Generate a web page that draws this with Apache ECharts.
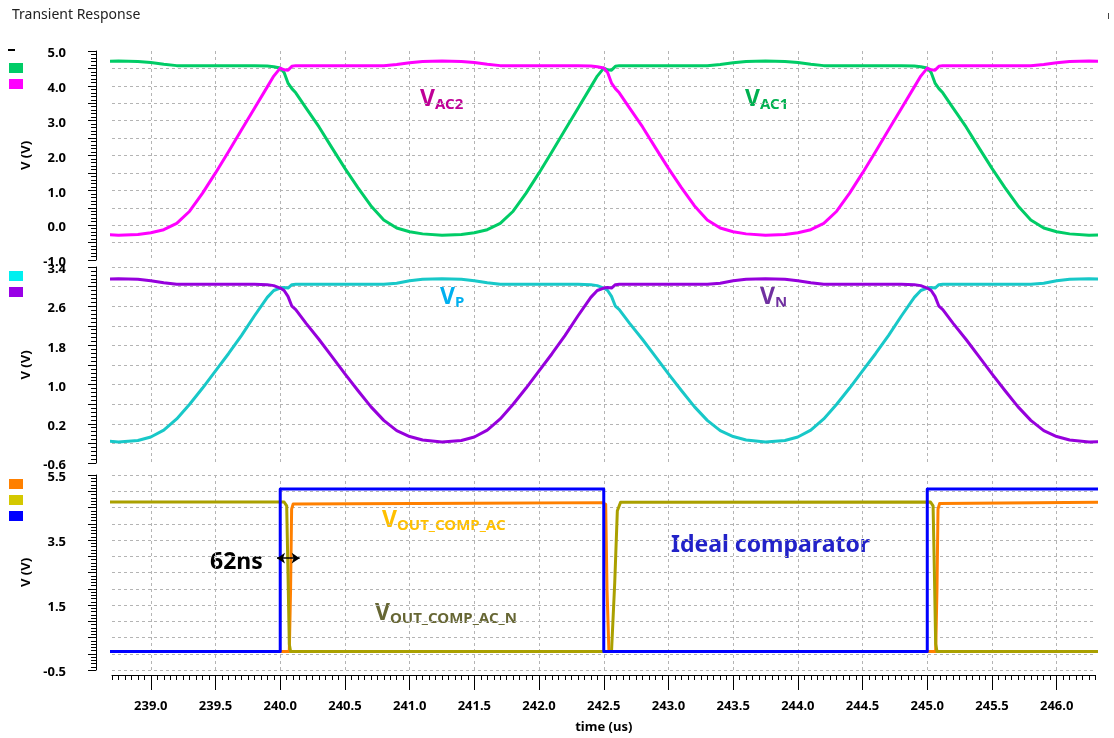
<!DOCTYPE html>
<html>
<head>
<meta charset="utf-8">
<title>Transient Response</title>
<script src="https://cdn.jsdelivr.net/npm/echarts@6/dist/echarts.min.js"></script>
<style>
  html, body { margin: 0; padding: 0; background: #ffffff; }
  #chart { width: 1114px; height: 738px; }
</style>
</head>
<body>
<div id="chart"></div>
<script>
// ---- time samples (us) shared by the analog node voltages ----
const timeUs = [
  238.66, 238.75, 238.90, 239.00, 239.10, 239.20, 239.30, 239.40, 239.50, 239.60, 239.70, 239.80, 239.90, 239.95,
  240.00, 240.03, 240.06, 240.09, 240.12, 240.20, 240.30, 240.40, 240.50, 240.60, 240.70, 240.80, 240.90, 241.00,
  241.10, 241.25, 241.40, 241.50, 241.60, 241.70, 241.80, 241.90, 242.00, 242.10, 242.20, 242.30, 242.40, 242.45,
  242.50, 242.53, 242.56, 242.59, 242.62, 242.70, 242.80, 242.90, 243.00, 243.10, 243.20, 243.30, 243.40, 243.50,
  243.60, 243.75, 243.90, 244.00, 244.10, 244.20, 244.30, 244.40, 244.50, 244.60, 244.70, 244.80, 244.90, 244.95,
  245.00, 245.03, 245.06, 245.09, 245.12, 245.20, 245.30, 245.40, 245.50, 245.60, 245.70, 245.80, 245.90, 246.00,
  246.10, 246.25, 246.37
];

// ---- upper strip: AC input nodes (V) ----
const vAC1 = [
  4.70, 4.71, 4.70, 4.67, 4.62, 4.58, 4.58, 4.58, 4.58, 4.58, 4.58, 4.58, 4.57, 4.55,
  4.51, 4.38, 4.08, 3.92, 3.80, 3.36, 2.82, 2.22, 1.63, 1.08, 0.56, 0.15, -0.08, -0.19,
  -0.25, -0.29, -0.27, -0.22, -0.13, 0.05, 0.40, 0.92, 1.50, 2.11, 2.73, 3.35, 3.97, 4.28,
  4.51, 4.46, 4.45, 4.56, 4.58, 4.58, 4.58, 4.58, 4.58, 4.58, 4.58, 4.58, 4.61, 4.66,
  4.70, 4.71, 4.70, 4.67, 4.62, 4.58, 4.58, 4.58, 4.58, 4.58, 4.58, 4.58, 4.57, 4.55,
  4.51, 4.38, 4.08, 3.92, 3.80, 3.36, 2.82, 2.22, 1.63, 1.08, 0.56, 0.15, -0.08, -0.19,
  -0.25, -0.29, -0.28
];
const vAC2 = [
  -0.27, -0.29, -0.27, -0.22, -0.13, 0.05, 0.40, 0.92, 1.50, 2.11, 2.73, 3.35, 3.97, 4.28,
  4.51, 4.46, 4.45, 4.56, 4.58, 4.58, 4.58, 4.58, 4.58, 4.58, 4.58, 4.58, 4.61, 4.66,
  4.70, 4.71, 4.70, 4.67, 4.62, 4.58, 4.58, 4.58, 4.58, 4.58, 4.58, 4.58, 4.57, 4.55,
  4.51, 4.38, 4.08, 3.92, 3.80, 3.36, 2.82, 2.22, 1.63, 1.08, 0.56, 0.15, -0.08, -0.19,
  -0.25, -0.29, -0.27, -0.22, -0.13, 0.05, 0.40, 0.92, 1.50, 2.11, 2.73, 3.35, 3.97, 4.28,
  4.51, 4.46, 4.45, 4.56, 4.58, 4.58, 4.58, 4.58, 4.58, 4.58, 4.58, 4.58, 4.61, 4.66,
  4.70, 4.71, 4.70
];

// ---- middle strip: comparator inputs (V) ----
const vP = [
  -0.15, -0.17, -0.14, -0.07, 0.07, 0.30, 0.60, 0.93, 1.28, 1.63, 2.00, 2.40, 2.78, 2.92,
  2.97, 2.98, 2.97, 3.04, 3.05, 3.05, 3.05, 3.05, 3.05, 3.05, 3.05, 3.05, 3.07, 3.12,
  3.15, 3.16, 3.15, 3.12, 3.08, 3.05, 3.05, 3.05, 3.05, 3.05, 3.05, 3.05, 3.04, 3.02,
  2.97, 2.92, 2.80, 2.60, 2.53, 2.25, 1.92, 1.57, 1.22, 0.88, 0.55, 0.27, 0.06, -0.06,
  -0.13, -0.17, -0.14, -0.07, 0.07, 0.30, 0.60, 0.93, 1.28, 1.63, 2.00, 2.40, 2.78, 2.92,
  2.97, 2.98, 2.97, 3.04, 3.05, 3.05, 3.05, 3.05, 3.05, 3.05, 3.05, 3.05, 3.07, 3.12,
  3.15, 3.16, 3.15
];
const vN = [
  3.15, 3.16, 3.15, 3.12, 3.08, 3.05, 3.05, 3.05, 3.05, 3.05, 3.05, 3.05, 3.04, 3.02,
  2.97, 2.92, 2.80, 2.60, 2.53, 2.25, 1.92, 1.57, 1.22, 0.88, 0.55, 0.27, 0.06, -0.06,
  -0.13, -0.17, -0.14, -0.07, 0.07, 0.30, 0.60, 0.93, 1.28, 1.63, 2.00, 2.40, 2.78, 2.92,
  2.97, 2.98, 2.97, 3.04, 3.05, 3.05, 3.05, 3.05, 3.05, 3.05, 3.05, 3.05, 3.07, 3.12,
  3.15, 3.16, 3.15, 3.12, 3.08, 3.05, 3.05, 3.05, 3.05, 3.05, 3.05, 3.05, 3.04, 3.02,
  2.97, 2.92, 2.80, 2.60, 2.53, 2.25, 1.92, 1.57, 1.22, 0.88, 0.55, 0.27, 0.06, -0.06,
  -0.13, -0.17, -0.16
];

// ---- lower strip: comparator outputs (V) ----
const compAcTime = [238.66, 240.070, 240.080, 240.088, 240.100, 241.50, 242.490, 242.515, 242.525, 242.540,
                    245.065, 245.075, 245.083, 245.095, 246.37];
const compAc     = [0.07, 0.07, 2.00, 4.45, 4.61, 4.63, 4.65, 4.60, 2.00, 0.07,
                    0.07, 2.00, 4.45, 4.62, 4.66];
const compAcNTime = [238.66, 240.030, 240.050, 240.060, 240.070, 240.080, 242.560, 242.585, 242.605, 242.630,
                     245.025, 245.045, 245.055, 245.065, 245.075, 246.37];
const compAcN     = [4.67, 4.67, 4.55, 2.50, 0.30, 0.07, 0.07, 2.20, 4.40, 4.66,
                     4.67, 4.55, 2.50, 0.30, 0.07, 0.07];
const idealTime = [238.66, 240.0, 240.0, 242.5, 242.5, 245.0, 245.0, 246.37];
const idealOut  = [0.07, 0.07, 5.07, 5.07, 0.07, 0.07, 5.07, 5.07];

// ---- axis ticks / labels ----
const xTickValues = [239.0, 239.5, 240.0, 240.5, 241.0, 241.5, 242.0, 242.5, 243.0, 243.5, 244.0, 244.5, 245.0, 245.5, 246.0];
const yLabelsAC   = [-1.0, 0.0, 1.0, 2.0, 3.0, 4.0, 5.0];
const yLabelsIn   = [-0.6, 0.2, 1.0, 1.8, 2.6, 3.4];
const yLabelsOut  = [-0.5, 1.5, 3.5, 5.5];

// ---- delay marker (us, V) ----
const delayLabel = '62ns';
const delayArrow = [[239.975, 2.94], [240.150, 2.94]];

const FONT = '"Noto Sans", "DejaVu Sans", sans-serif';
const X_MIN = 238.7, X_MAX = 246.3;
const GRID_LEFT = 112, GRID_WIDTH = 983.5;

const pairs = (t, v) => t.map((x, i) => [x, v[i]]);
const dashed = { color: '#b4b4b4', width: 1, type: [3, 3] };
const black = { color: '#000000', width: 1 };
const tickFont = { color: '#000000', fontSize: 13, fontWeight: 'bold', fontFamily: FONT };

function panelX(i) {
  return {
    type: 'value', gridIndex: i, min: X_MIN, max: X_MAX, position: 'bottom',
    axisLine: { show: false, onZero: false },
    axisTick: { show: false, customValues: xTickValues },
    axisLabel: { show: false },
    splitLine: { show: true, lineStyle: dashed }
  };
}

function panelY(i, min, max, interval, labels, showMin, showMax) {
  return {
    type: 'value', gridIndex: i, min: min, max: max, interval: interval,
    position: 'left', offset: 16,
    axisLine: { show: true, onZero: false, lineStyle: black },
    axisTick: { show: true, length: 8, lineStyle: black },
    minorTick: { show: true, splitNumber: 5, length: 5, lineStyle: black },
    axisLabel: Object.assign({
      show: true, customValues: labels, margin: 30, showMinLabel: true, showMaxLabel: true,
      formatter: v => '{t|' + v.toFixed(1) + '}',
      rich: { t: Object.assign({ padding: [5, 0, 0, 0] }, tickFont) }
    }, tickFont),
    splitLine: { show: true, showMinLine: showMin, showMaxLine: showMax, lineStyle: dashed },
    name: 'V (V)', nameLocation: 'middle', nameGap: 57, nameRotate: 90,
    nameTextStyle: Object.assign({}, tickFont)
  };
}

function trace(name, idx, t, v, color, z) {
  return {
    type: 'line', name: name, xAxisIndex: idx, yAxisIndex: idx,
    data: pairs(t, v), showSymbol: false, symbol: 'none', clip: false,
    silent: true, animation: false, z: z,
    lineStyle: { color: color, width: 3, join: 'round' },
    itemStyle: { color: color },
    emphasis: { disabled: true }
  };
}

function legendBlock(top, items) {
  return {
    left: 9, top: top, orient: 'vertical', padding: 0,
    itemWidth: 14, itemHeight: 10, itemGap: 6, icon: 'rect',
    selectedMode: false, formatter: () => '',
    textStyle: { fontSize: 8, lineHeight: 10 },
    data: items.map(([name, color]) => ({ name: name, itemStyle: { color: color, borderWidth: 0 } }))
  };
}

function subLabel(x, y, main, sub, color) {
  return {
    type: 'text', x: x, y: y, silent: true,
    style: {
      text: '{v|' + main + '}{s|' + sub + '}',
      fill: color, verticalAlign: 'middle',
      rich: {
        v: { fill: color, fontSize: 23, fontWeight: 'bold', fontFamily: FONT, lineHeight: 26 },
        s: { fill: color, fontSize: 15, fontWeight: 'bold', fontFamily: FONT, lineHeight: 16, padding: [12, 0, 0, 0] }
      }
    }
  };
}

const chart = echarts.init(document.getElementById('chart'), null, { renderer: 'canvas', width: 1114, height: 738 });

chart.setOption({
  animation: false,
  backgroundColor: '#ffffff',
  title: {
    text: 'Transient Response', left: 12, top: 8, padding: 0,
    textStyle: { fontSize: 14, fontWeight: 'normal', color: '#222222', fontFamily: FONT }
  },
  grid: [
    { left: GRID_LEFT, width: GRID_WIDTH, top: 51, height: 209, outerBoundsMode: 'none' },
    { left: GRID_LEFT, width: GRID_WIDTH, top: 267, height: 196, outerBoundsMode: 'none' },
    { left: GRID_LEFT, width: GRID_WIDTH, top: 475, height: 195, outerBoundsMode: 'none' }
  ],
  xAxis: [
    panelX(0), panelX(1), panelX(2),
    {
      type: 'value', gridIndex: 2, min: X_MIN, max: X_MAX, interval: 0.05,
      position: 'bottom', offset: 5,
      axisLine: { show: true, onZero: false, lineStyle: black },
      axisTick: { show: true, length: 5, lineStyle: black },
      axisLabel: { show: false },
      splitLine: { show: false }
    },
    {
      type: 'value', gridIndex: 2, min: X_MIN, max: X_MAX,
      position: 'bottom', offset: 5,
      axisLine: { show: false, onZero: false },
      axisTick: { show: true, length: 15, customValues: xTickValues, lineStyle: black },
      axisLabel: Object.assign({ show: true, customValues: xTickValues, formatter: v => v.toFixed(1), margin: 25 }, tickFont),
      splitLine: { show: false },
      name: 'time (us)', nameLocation: 'middle', nameGap: 46,
      nameTextStyle: Object.assign({}, tickFont)
    }
  ],
  yAxis: [
    panelY(0, -1.0, 5.0, 0.5, yLabelsAC, false, false),
    panelY(1, -0.6, 3.4, 0.4, yLabelsIn, false, true),
    panelY(2, -0.5, 5.5, 0.5, yLabelsOut, true, true)
  ],
  legend: [
    legendBlock(63, [['VAC1', '#00cc66'], ['VAC2', '#ff00ff']]),
    legendBlock(271, [['VP', '#00f0f0'], ['VN', '#9900e6']]),
    legendBlock(479, [['VOUT_COMP_AC', '#ff8000'], ['VOUT_COMP_AC_N', '#d4c800'], ['Ideal', '#0000ff']])
  ],
  series: [
    trace('VAC1', 0, timeUs, vAC1, '#00cc66', 2),
    trace('VAC2', 0, timeUs, vAC2, '#ff00ff', 3),
    trace('VP', 1, timeUs, vP, '#18c8c8', 2),
    trace('VN', 1, timeUs, vN, '#9600dc', 3),
    trace('VOUT_COMP_AC', 2, compAcTime, compAc, '#ff8000', 2),
    trace('VOUT_COMP_AC_N', 2, compAcNTime, compAcN, '#aaa000', 3),
    Object.assign(trace('Ideal', 2, idealTime, idealOut, '#0000ff', 4), {
      markLine: {
        silent: true, animation: false,
        symbol: ['arrow', 'arrow'], symbolSize: 8,
        lineStyle: { color: '#000000', width: 1.5, type: 'solid' },
        label: { show: false },
        data: [[{ coord: delayArrow[0] }, { coord: delayArrow[1] }]]
      }
    })
  ],
  graphic: [
    { type: 'rect', shape: { x: 8, y: 49, width: 7, height: 2 }, style: { fill: '#000000' }, silent: true },
    { type: 'rect', shape: { x: 1108, y: 13, width: 1, height: 6 }, style: { fill: '#444444' }, silent: true },
    subLabel(420, 99, 'V', 'AC2', '#bf0096'),
    subLabel(745, 99, 'V', 'AC1', '#00b050'),
    subLabel(440, 297, 'V', 'P', '#00b0f0'),
    subLabel(760, 297, 'V', 'N', '#7030a0'),
    subLabel(382, 520, 'V', 'OUT_COMP_AC', '#ffc000'),
    subLabel(375, 613, 'V', 'OUT_COMP_AC_N', '#666633'),
    {
      type: 'text', x: 671, y: 545, silent: true,
      style: { text: 'Ideal comparator', fill: '#2222c8', verticalAlign: 'middle',
               font: 'bold 23px "Noto Sans", "DejaVu Sans", sans-serif' }
    },
    {
      type: 'text', x: 210, y: 562, silent: true,
      style: { text: delayLabel, fill: '#000000', verticalAlign: 'middle',
               font: 'bold 23px "Noto Sans", "DejaVu Sans", sans-serif' }
    }
  ]
});
</script>
</body>
</html>
